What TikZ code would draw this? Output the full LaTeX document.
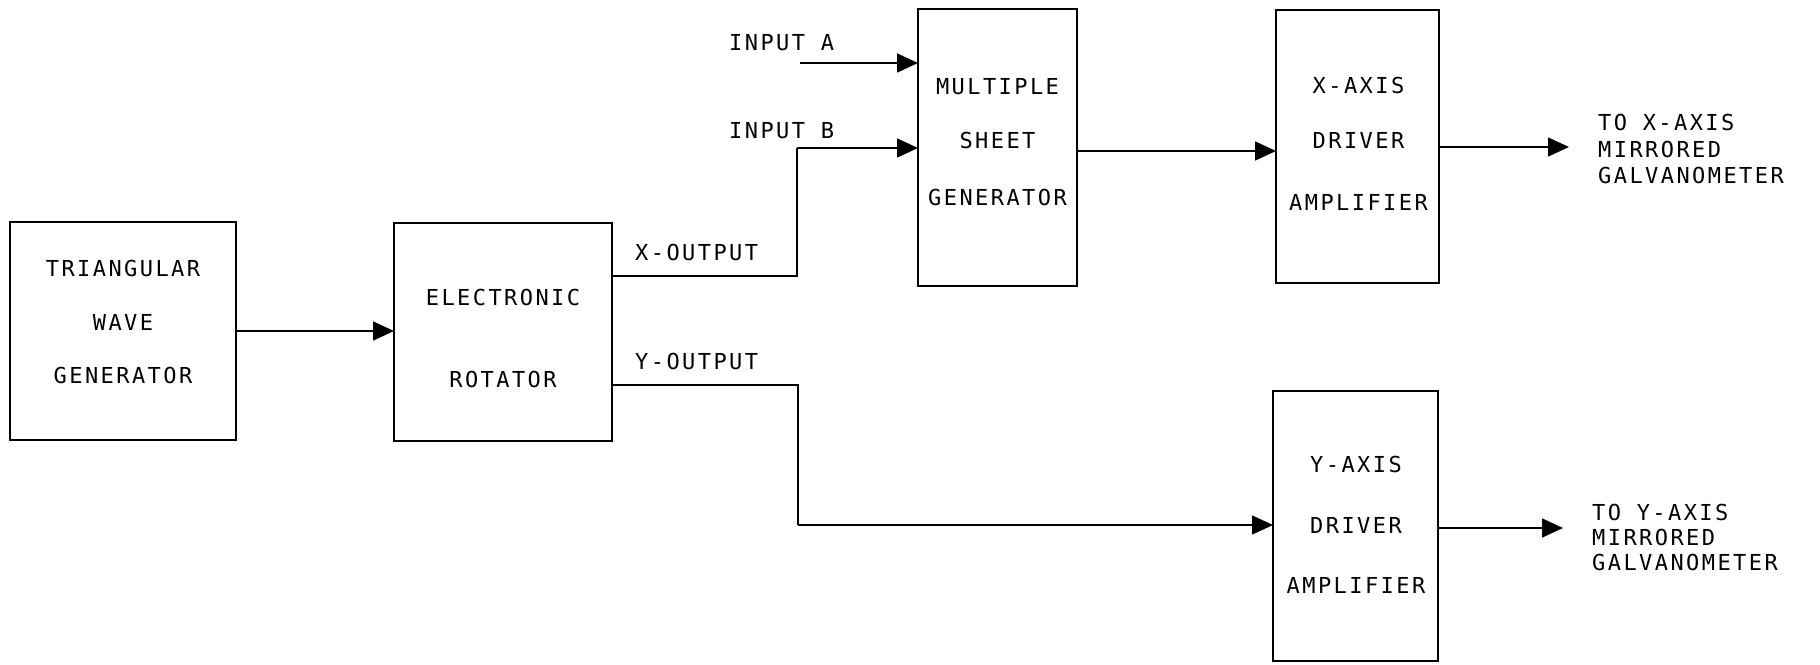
\documentclass[tikz,border=0pt]{standalone}
\usepackage{fontspec}
\setmainfont{DejaVu Sans Mono}[LetterSpace=11]
\usetikzlibrary{arrows.meta}
\begin{document}
\begin{tikzpicture}[x=1pt,y=-1pt,
  blk/.style={draw, line width=1.6pt, inner sep=0pt, outer sep=0pt},
  lbl/.style={anchor=base, inner sep=0pt, font=\fontsize{22}{26}\selectfont},
  lbw/.style={anchor=base west, inner sep=0pt, font=\fontsize{22}{26}\selectfont},
  wire/.style={line width=1.6pt},
  arr/.style={line width=1.6pt, -{Triangle[length=21pt,width=19pt]}}]
\useasboundingbox (0,0) rectangle (1820,664);
% boxes
\node[blk, minimum width=226pt, minimum height=218pt] (tri) at (123,331) {};
\node[blk, minimum width=218pt, minimum height=218pt] (rot) at (503,332) {};
\node[blk, minimum width=159pt, minimum height=277pt] (msg) at (997.5,147.5) {};
\node[blk, minimum width=163pt, minimum height=273pt] (xax) at (1357.5,146.5) {};
\node[blk, minimum width=165pt, minimum height=270pt] (yax) at (1355.5,526) {};
% box texts
\node[lbl] (tri1) at (123,276) {TRIANGULAR};
\node[lbl] (tri2) at (123,330) {WAVE};
\node[lbl] (tri3) at (123,383) {GENERATOR};
\node[lbl] (rot1) at (503,305) {ELECTRONIC};
\node[lbl] (rot2) at (503,387) {ROTATOR};
\node[lbl] (msg1) at (997.5,94) {MULTIPLE};
\node[lbl] (msg2) at (997.5,148) {SHEET};
\node[lbl] (msg3) at (997.5,205) {GENERATOR};
\node[lbl] (xax1) at (1358.5,93) {X-AXIS};
\node[lbl] (xax2) at (1358.5,148) {DRIVER};
\node[lbl] (xax3) at (1358.5,210) {AMPLIFIER};
\node[lbl] (yax1) at (1356,472) {Y-AXIS};
\node[lbl] (yax2) at (1356,533) {DRIVER};
\node[lbl] (yax3) at (1356,593) {AMPLIFIER};
% signal labels
\node[lbw] (ina) at (729,50) {INPUT A};
\node[lbw] (inb) at (729,138) {INPUT B};
\node[lbw] (xo) at (635,260) {X-OUTPUT};
\node[lbw] (yo) at (635,369) {Y-OUTPUT};
\node[lbw] (tx1) at (1598,130) {TO X-AXIS};
\node[lbw] (tx2) at (1598,157) {MIRRORED};
\node[lbw] (tx3) at (1598,183) {GALVANOMETER};
\node[lbw] (ty1) at (1592,520) {TO Y-AXIS};
\node[lbw] (ty2) at (1592,545) {MIRRORED};
\node[lbw] (ty3) at (1592,570) {GALVANOMETER};
% helper coordinates
\coordinate (inaS) at (800,63);
\coordinate (xoS) at (0,276);
\coordinate (xbend) at (797,148);
\coordinate (yoS) at (0,385);
\coordinate (ybend) at (798,525);
\coordinate (mS) at (0,151);
\coordinate (xend) at (1569,147);
\coordinate (yend) at (1563,528);
% connectors
\draw[arr] (tri.east) -- (tri.east -| rot.west);
\draw[arr] (inaS) -- (inaS -| msg.west);
\draw[wire] (rot.east |- xoS) -| (xbend);
\draw[arr] (xbend) -- (xbend -| msg.west);
\draw[wire] (rot.east |- yoS) -| (ybend);
\draw[arr] (ybend) -- (ybend -| yax.west);
\draw[arr] (msg.east |- mS) -- (mS -| xax.west);
\draw[arr] (xax.east |- xend) -- (xend);
\draw[arr] (yax.east |- yend) -- (yend);
\end{tikzpicture}
\end{document}
